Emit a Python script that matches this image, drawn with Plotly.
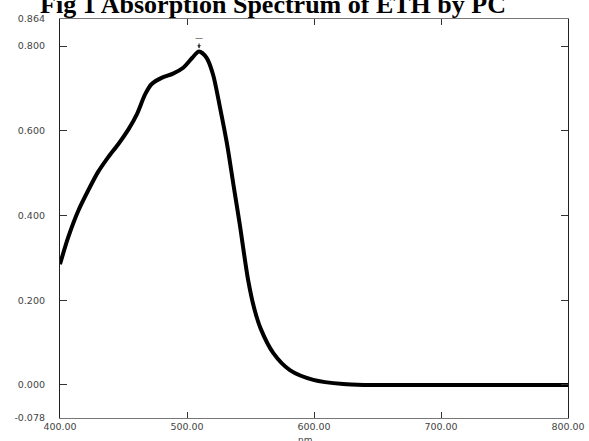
import plotly.graph_objects as go

# Wavelength (nm) and absorbance
wavelength = [400, 406.5, 414.5, 422.5, 430, 438, 446, 454, 460.5, 467, 472, 480,
              489, 497, 504, 509.5, 515.5, 520.5, 526, 531.5, 536.5, 541.5, 548,
              553, 558, 568, 581, 599.5, 623, 640, 668, 700, 750, 800]
absorbance = [0.285, 0.349, 0.412, 0.461, 0.503, 0.538, 0.569, 0.604, 0.639, 0.686,
              0.710, 0.725, 0.735, 0.749, 0.772, 0.787, 0.772, 0.733, 0.655, 0.569,
              0.474, 0.380, 0.250, 0.180, 0.133, 0.075, 0.035, 0.012, 0.002, 0.000,
              0.000, 0.000, 0.000, 0.000]

x_tickvals = [400, 500, 600, 700, 800]
x_ticktext = ["400.00", "500.00", "600.00", "700.00", "800.00"]
y_tickvals = [-0.078, 0.0, 0.2, 0.4, 0.6, 0.8, 0.864]
y_ticktext = ["-0.078", "0.000", "0.200", "0.400", "0.600", "0.800", "0.864"]

title_text = "Fig 1 Absorption Spectrum of ETH by PC"
x_label = "nm"

tick_font = dict(family="DejaVu Sans", size=9.5, color="#444444")

fig = go.Figure()
fig.add_trace(go.Scatter(
    x=wavelength, y=absorbance, mode="lines",
    line=dict(color="black", width=4, shape="spline", smoothing=0.8),
    showlegend=False, hoverinfo="skip",
))

# peak marker
pk = max(range(len(absorbance)), key=lambda i: absorbance[i])
fig.add_annotation(
    x=wavelength[pk], y=absorbance[pk], xref="x", yref="y",
    text="—", font=dict(size=8, color="#333333"),
    showarrow=True, arrowhead=2, arrowsize=0.6, arrowwidth=1.2, arrowcolor="#333333",
    ax=0, ay=-15, standoff=3,
)

fig.add_annotation(
    x=0.482, y=0, xref="paper", yref="paper", xanchor="center", yanchor="top",
    yshift=-15, text=x_label, showarrow=False,
    font=dict(family="DejaVu Sans", size=9, color="#444444"),
)

fig.update_layout(
    width=589, height=441,
    margin=dict(l=60, r=21, t=19, b=23, autoexpand=False),
    paper_bgcolor="white", plot_bgcolor="white",
    title=dict(text="<b>" + title_text + "</b>", x=0.4635, xref="container", xanchor="center",
               y=1 - 4 / 441, yref="container", yanchor="middle",
               font=dict(family="Liberation Serif", size=26, color="black")),
    xaxis=dict(range=[400, 800], tickvals=x_tickvals, ticktext=x_ticktext,
               ticks="inside", ticklen=6, tickcolor="#333333", tickwidth=1,
               showline=True, linecolor="#777777", linewidth=1, mirror="ticks",
               showgrid=False, zeroline=False, tickfont=tick_font, automargin=False),
    yaxis=dict(range=[-0.078, 0.864], tickvals=y_tickvals, ticktext=y_ticktext,
               ticks="inside", ticklen=7, tickcolor="#333333", tickwidth=1,
               showline=True, linecolor="#222222", linewidth=1.2, mirror="ticks",
               showgrid=False, zeroline=False, tickfont=tick_font, automargin=False,
               ticklabelstandoff=12),
)

fig.write_html("out.html", config={"displayModeBar": False},
               post_script="document.body.style.margin='0';")
